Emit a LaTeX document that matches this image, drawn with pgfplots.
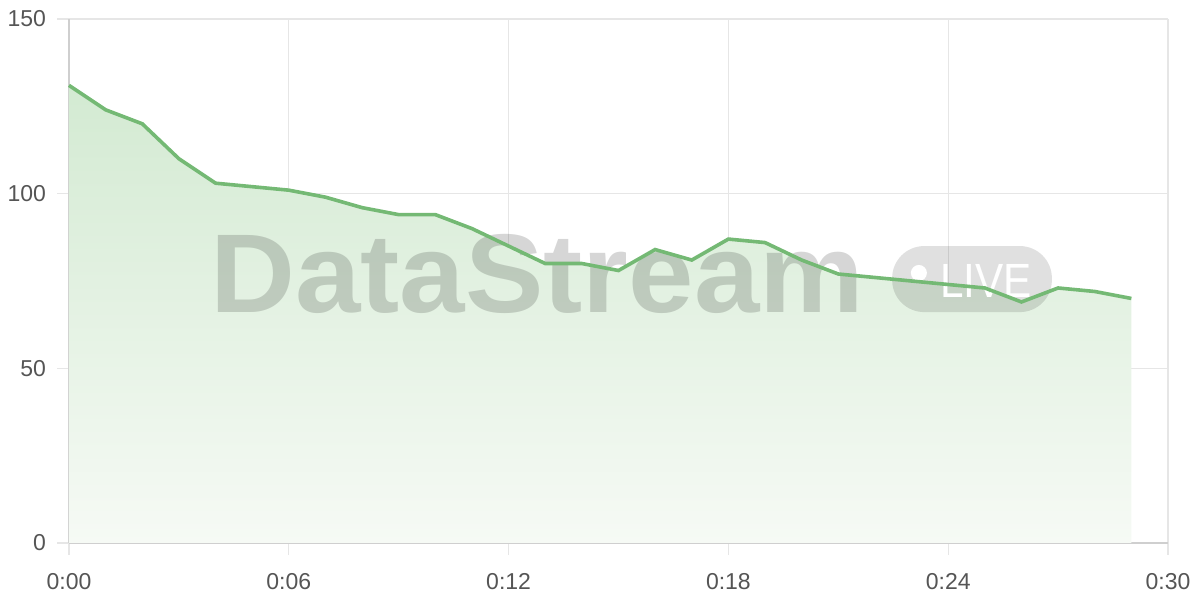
\documentclass[border=0pt]{standalone}
\usepackage{fontspec}
\setmainfont{Liberation Sans}
\usepackage{pgfplots}
\pgfplotsset{compat=1.18}

\definecolor{linegreen}{HTML}{74B974}
\definecolor{filltop}{HTML}{D3EAD2}
\definecolor{fillbot}{HTML}{F6FAF5}
\definecolor{gridgray}{HTML}{E6E6E6}
\definecolor{axisgray}{HTML}{CFCFCF}
\definecolor{labelgray}{HTML}{555555}

\begin{document}
\begin{tikzpicture}
	\begin{axis}[
		scale only axis,
		width=549.5pt,
		height=262pt,
		xmin=0, xmax=30,
		ymin=0, ymax=150,
		xtick={0,6,...,30},
		xticklabels={0:00,0:06,0:12,0:18,0:24,0:30},
		ytick={0,50,100,150},
		axis x line*=bottom,
		axis y line*=left,
		axis line style={draw=axisgray, line width=0.8pt},
		grid=major,
		major grid style={draw=gridgray, line width=0.6pt},
		tick align=outside,
		major tick length=6pt,
		tick style={draw=gridgray, line width=0.6pt},
		tick label style={font=\fontsize{11.5pt}{13pt}\selectfont, text=labelgray},
		/pgf/number format/assume math mode=true,
		xticklabel style={yshift=-5.5pt},
		yticklabel style={xshift=-2pt},
		clip=false]
		\addplot [draw=none, shade, top color=filltop, bottom color=fillbot] coordinates
			{(0,131) (1,124) (2,120) (3,110) (4,103) (5,102) (6,101) (7,99) (8,96) (9,94)
			 (10,94) (11,90) (12,85) (13,80) (14,80) (15,78) (16,84) (17,81) (18,87) (19,86)
			 (20,81) (21,77) (22,76) (23,75) (24,74) (25,73) (26,69) (27,73) (28,72) (29,70)}
			\closedcycle;
		% watermark
		\node [anchor=base west, inner sep=0pt, text=black, text opacity=0.16,
			font=\fontsize{56pt}{60pt}\selectfont\bfseries, xscale=1.05]
			at (axis cs:3.85,66) {DataStream};
		\fill [black, fill opacity=0.12, rounded corners=16pt]
			(axis cs:22.47,66.1) rectangle (axis cs:26.83,85);
		\fill [white] (axis cs:23.2,77.3) circle (4pt);
		\node [anchor=base west, inner sep=0pt, text=white,
			font=\fontsize{24pt}{26pt}\selectfont, xscale=0.88]
			at (axis cs:23.78,70.4) {LIVE};
		\addplot [linegreen, line width=1.8pt] coordinates
			{(0,131) (1,124) (2,120) (3,110) (4,103) (5,102) (6,101) (7,99) (8,96) (9,94)
			 (10,94) (11,90) (12,85) (13,80) (14,80) (15,78) (16,84) (17,81) (18,87) (19,86)
			 (20,81) (21,77) (22,76) (23,75) (24,74) (25,73) (26,69) (27,73) (28,72) (29,70)};
	\end{axis}
	\pgfresetboundingbox
	\path ([xshift=-34.5pt,yshift=-28.5pt]current axis.south west)
		rectangle ([xshift=16pt,yshift=9.5pt]current axis.north east);
\end{tikzpicture}
\end{document}
